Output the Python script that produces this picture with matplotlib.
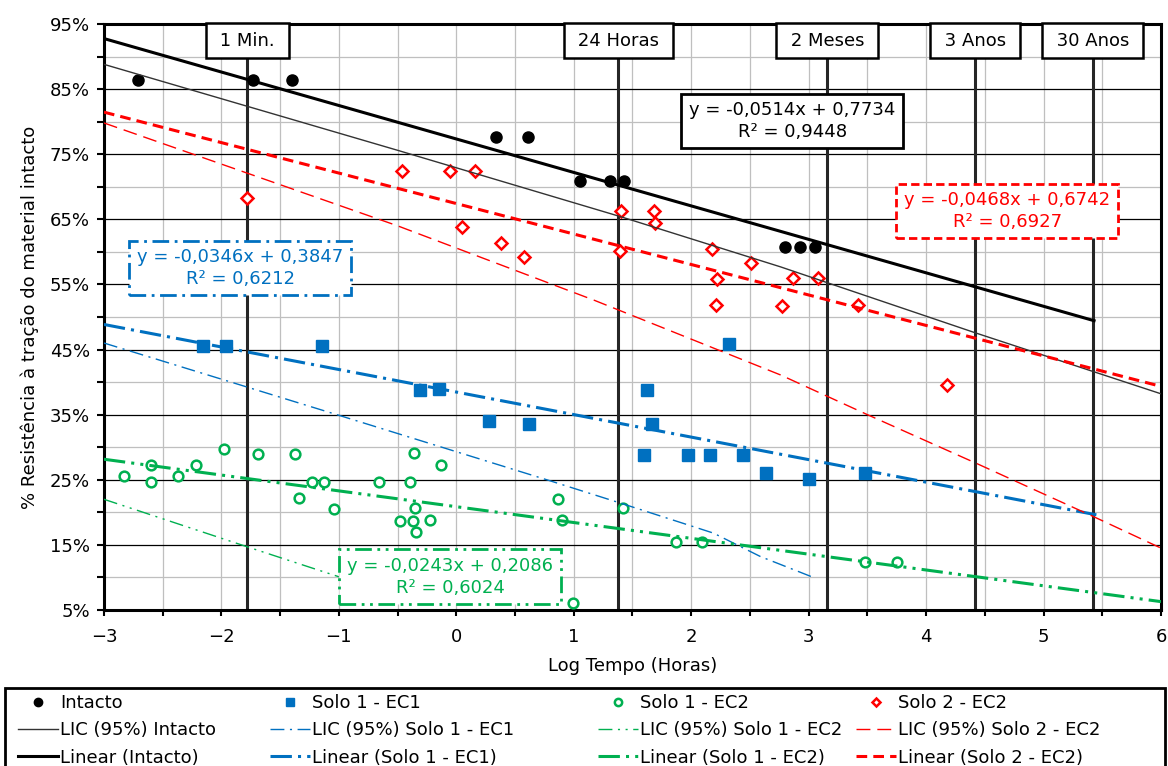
import numpy as np
import matplotlib.pyplot as plt
from matplotlib.patches import Rectangle
from matplotlib.ticker import MultipleLocator, PercentFormatter

RED = '#FF0000'
BLUE = '#0070C0'
GREEN = '#00B050'

# pontos (log tempo [h], fração da resistência do material intacto)
intacto_x = [-2.71, -1.73, -1.40, 0.34, 0.61, 1.05, 1.31, 1.43, 2.80, 2.93, 3.05]
intacto_y = [0.864, 0.864, 0.864, 0.776, 0.776, 0.709, 0.709, 0.709, 0.607, 0.607, 0.607]

ec1_x = [-2.16, -1.96, -1.14, -0.31, -0.15, 0.28, 0.62, 1.60, 1.62, 1.67,
         1.97, 2.16, 2.32, 2.44, 2.64, 3.00, 3.48]
ec1_y = [0.456, 0.456, 0.456, 0.388, 0.390, 0.340, 0.335, 0.288, 0.388, 0.335,
         0.288, 0.288, 0.458, 0.288, 0.260, 0.251, 0.260]

ec2_x = [-2.83, -2.60, -2.60, -2.37, -2.22, -1.98, -1.69, -1.37, -1.34, -1.23,
         -1.13, -1.04, -0.66, -0.48, -0.39, -0.36, -0.365, -0.35, -0.34, -0.22,
         -0.13, 0.87, 0.90, 0.99, 1.42, 1.87, 2.09, 3.48, 3.75]
ec2_y = [0.255, 0.272, 0.247, 0.255, 0.272, 0.297, 0.289, 0.290, 0.222, 0.247,
         0.247, 0.205, 0.247, 0.187, 0.247, 0.291, 0.187, 0.206, 0.169, 0.188,
         0.272, 0.221, 0.188, 0.061, 0.206, 0.155, 0.155, 0.123, 0.123]

s2_x = [-1.78, -0.46, -0.05, 0.16, 0.05, 0.38, 0.58, 1.40, 1.39, 1.68,
        1.69, 2.18, 2.51, 2.22, 2.21, 2.77, 2.87, 3.08, 3.42, 4.18]
s2_y = [0.682, 0.724, 0.724, 0.724, 0.638, 0.614, 0.592, 0.663, 0.601, 0.663,
        0.645, 0.605, 0.583, 0.559, 0.518, 0.517, 0.560, 0.560, 0.518, 0.395]

# linhas de tendência (a, b) e fim de cada linha em x
coef_intacto = (-0.0514, 0.7734)
coef_ec1 = (-0.0346, 0.3847)
coef_ec2 = (-0.0243, 0.2086)
coef_s2 = (-0.0468, 0.6742)
end_intacto, end_ec1, end_ec2, end_s2 = 5.43, 5.45, 6.0, 6.0

# limites inferiores de confiança (95%)
lic_intacto_x = [-3, -0.5, 1.4, 2.76, 4.43, 6.0]
lic_intacto_y = [0.888, 0.756, 0.654, 0.577, 0.475, 0.382]
lic_ec1_x = [-3, -1.0, 0.77, 1.4, 2.19, 2.59, 3.04]
lic_ec1_y = [0.460, 0.349, 0.250, 0.214, 0.168, 0.132, 0.100]
lic_ec2_x = [-3, -1.78, -1.0]
lic_ec2_y = [0.220, 0.147, 0.101]
lic_s2_x = [-3, -0.5, 1.17, 2.76, 3.5, 4.43, 5.43, 6.0]
lic_s2_y = [0.798, 0.640, 0.526, 0.411, 0.350, 0.275, 0.193, 0.145]

# marcos de tempo (horas)
event_hours = [1 / 60, 24, 60 * 24, 3 * 365 * 24, 30 * 365 * 24]
event_labels = ['1 Min.', '24 Horas', '2 Meses', '3 Anos', '30 Anos']

fig = plt.figure(figsize=(11.68, 7.66), dpi=100)
ax = fig.add_axes([0.089, 0.2037, 0.905, 0.765])

for h in event_hours:
    ax.axvline(np.log10(h), color='#262626', lw=2.2, zorder=2)

h_int, = ax.plot(intacto_x, intacto_y, ls='none', marker='o', ms=8, color='black',
                 label='Intacto', zorder=3)
h_ec1, = ax.plot(ec1_x, ec1_y, ls='none', marker='s', ms=8, color=BLUE,
                 label='Solo 1 - EC1', zorder=3)
h_ec2, = ax.plot(ec2_x, ec2_y, ls='none', marker='o', ms=7, mfc='white', mec=GREEN,
                 mew=1.8, label='Solo 1 - EC2', zorder=3)
h_s2, = ax.plot(s2_x, s2_y, ls='none', marker='D', ms=6, mfc='white', mec=RED,
                mew=1.8, label='Solo 2 - EC2', zorder=3)


def trend(coef, x_end, **kw):
    xs = np.array([-3.0, x_end])
    return ax.plot(xs, coef[0] * xs + coef[1], zorder=4, **kw)[0]


h_lic_int, = ax.plot(lic_intacto_x, lic_intacto_y, color='#333333', lw=1, zorder=4,
                     label='LIC (95%) Intacto')
h_lin_int = trend(coef_intacto, end_intacto, color='black', lw=2.2, label='Linear (Intacto)')

h_lic_ec1, = ax.plot(lic_ec1_x, lic_ec1_y, color=BLUE, lw=1, ls=(0, (10, 4, 1.5, 4)),
                     zorder=4, label='LIC (95%) Solo 1 - EC1')
h_lin_ec1 = trend(coef_ec1, end_ec1, color=BLUE, lw=2.2, ls=(0, (7, 2, 1, 2)),
                  label='Linear (Solo 1 - EC1)')

h_lic_ec2, = ax.plot(lic_ec2_x, lic_ec2_y, color=GREEN, lw=1,
                     ls=(0, (10, 4, 1.5, 4, 1.5, 4)), zorder=4,
                     label='LIC (95%) Solo 1 - EC2')
h_lin_ec2 = trend(coef_ec2, end_ec2, color=GREEN, lw=2.2, ls=(0, (7, 2, 1, 2, 1, 2)),
                  label='Linear (Solo 1 - EC2)')

h_lic_s2, = ax.plot(lic_s2_x, lic_s2_y, color=RED, lw=1, ls=(0, (10, 5)), zorder=4,
                    label='LIC (95%) Solo 2 - EC2')
h_lin_s2 = trend(coef_s2, end_s2, color=RED, lw=2.2, ls=(0, (3.5, 2)),
                 label='Linear (Solo 2 - EC2)')

# caixas dos marcos de tempo
for h, lab in zip(event_hours, event_labels):
    ax.text(np.log10(h), 0.9240, f' {lab} ', ha='center', va='center', fontsize=13,
            bbox=dict(boxstyle='square,pad=0.47', fc='white', ec='black', lw=1.8),
            zorder=6)

# equações
eq_style = dict(ha='center', va='center', multialignment='center', fontsize=13,
                linespacing=1.25, zorder=6)
eq_pad = 'square,pad=0.42'
ax.text(2.86, 0.801, 'y = -0,0514x + 0,7734\nR² = 0,9448', color='black',
        bbox=dict(boxstyle=eq_pad, fc='white', ec='black', lw=2), **eq_style)
ax.text(4.69, 0.663, 'y = -0,0468x + 0,6742\nR² = 0,6927', color=RED,
        bbox=dict(boxstyle=eq_pad, fc='white', ec=RED, lw=2,
                  ls=(0, (3, 1.5))), **eq_style)
ax.text(-1.84, 0.575, 'y = -0,0346x + 0,3847\nR² = 0,6212', color=BLUE,
        bbox=dict(boxstyle=eq_pad, fc='white', ec=BLUE, lw=2,
                  ls=(0, (6, 2, 1, 2))), **eq_style)
ax.text(-0.053, 0.101, 'y = -0,0243x + 0,2086\nR² = 0,6024', color=GREEN,
        bbox=dict(boxstyle=eq_pad, fc='white', ec=GREEN, lw=2,
                  ls=(0, (6, 2, 1, 2, 1, 2))), **eq_style)

ax.set_xlim(-3, 6)
ax.set_ylim(0.05, 0.95)
ax.xaxis.set_major_locator(MultipleLocator(1))
ax.xaxis.set_minor_locator(MultipleLocator(0.5))
ax.set_yticks(np.arange(0.05, 0.96, 0.1))
ax.set_yticks(np.arange(0.1, 0.91, 0.1), minor=True)
ax.yaxis.set_major_formatter(PercentFormatter(1.0, decimals=0))

ax.set_axisbelow(True)
ax.grid(True, which='major', axis='y', color='black', lw=0.9)
ax.grid(True, which='minor', axis='y', color='#BFBFBF', lw=0.9)
ax.grid(True, which='both', axis='x', color='#BFBFBF', lw=0.9)
ax.tick_params(which='both', direction='out', length=5, width=1.5, labelsize=13)
ax.tick_params(axis='x', which='both', length=4, pad=9)
ax.tick_params(axis='y', which='both', pad=5)
for sp in ax.spines.values():
    sp.set_linewidth(2.2)

ax.set_xlabel('Log Tempo (Horas)', fontsize=13, labelpad=8)
ax.set_ylabel('% Resistência à tração do material intacto', fontsize=13, labelpad=8)

# legenda: quatro colunas numa moldura comum
columns = [[h_int, h_lic_int, h_lin_int],
           [h_ec1, h_lic_ec1, h_lin_ec1],
           [h_ec2, h_lic_ec2, h_lin_ec2],
           [h_s2, h_lic_s2, h_lin_s2]]
col_left_px = [18, 270, 598, 856]
for hs, xp in zip(columns, col_left_px):
    fig.legend(handles=hs, loc='upper left', bbox_to_anchor=(xp / 1168, 1 - 694 / 766),
               frameon=False, fontsize=13, handlelength=2.2, handletextpad=0.15,
               labelspacing=0.52, borderpad=0, borderaxespad=0, numpoints=1,
               markerscale=0.75)
fig.add_artist(Rectangle((5 / 1168, -0.02), 1160 / 1168, (766 - 688) / 766 + 0.02,
                         transform=fig.transFigure, fill=False, ec='black', lw=2))

fig.savefig('out.png', dpi=100)
